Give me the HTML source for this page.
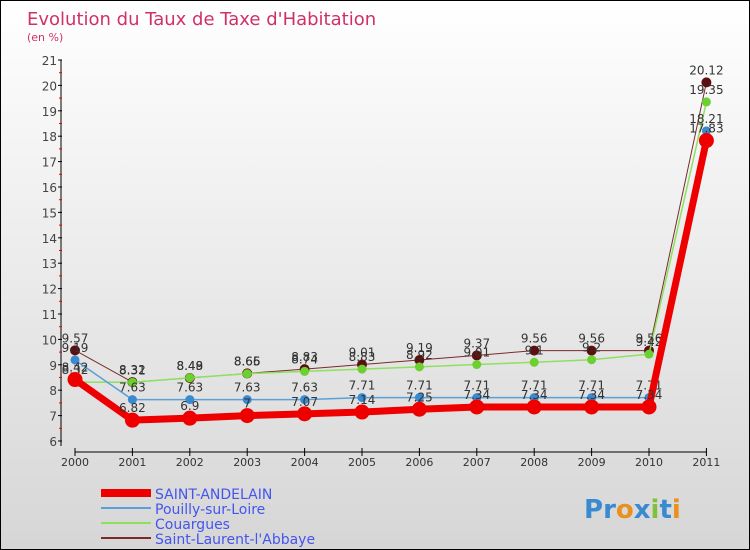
<!DOCTYPE html>
<html><head><meta charset="utf-8"><style>
body{margin:0}
#c{position:relative;width:748px;height:548px;border:1px solid #000;background:linear-gradient(#fff,#d6d6d6);font-family:"DejaVu Sans","Liberation Sans",sans-serif;overflow:hidden}
text{font-family:"DejaVu Sans","Liberation Sans",sans-serif}
</style></head><body>
<div id="c">
<svg id="s" width="748" height="548"></svg>
</div>
<script>
const years=[2000,2001,2002,2003,2004,2005,2006,2007,2008,2009,2010,2011];
const sAnd=[8.42,6.82,6.9,7,7.07,7.14,7.25,7.34,7.34,7.34,7.34,17.83];
const sPou=[9.19,7.63,7.63,7.63,7.63,7.71,7.71,7.71,7.71,7.71,7.71,18.21];
const sCou=[8.32,8.31,8.49,8.65,8.74,8.83,8.92,9.01,9.1,9.2,9.42,19.35];
const sSla=[9.57,8.32,8.48,8.66,8.83,9.01,9.19,9.37,9.56,9.56,9.56,20.12];
const yTicks=[6,7,8,9,10,11,12,13,14,15,16,17,18,19,20,21];
const names=["SAINT-ANDELAIN","Pouilly-sur-Loire","Couargues","Saint-Laurent-l'Abbaye"];
const NS="http://www.w3.org/2000/svg",svg=document.getElementById('s');
const x=i=>74+i*57.4, y=v=>440-(v-6)*25.4;
function el(t,a,txt){const e=document.createElementNS(NS,t);for(const k in a)e.setAttribute(k,a[k]);if(txt!==undefined)e.textContent=txt;svg.appendChild(e);return e;}
let t=el('text',{x:26,y:24,fill:'#d0306a','font-size':18},'Evolution du Taux de Taxe d\'Habitation');

t=el('text',{x:26,y:40,fill:'#d0306a','font-size':11},'(en %)');

let a=el('line',{x1:60,y1:59,x2:60,y2:445,stroke:'#000'});

a=el('line',{x1:74,y1:451,x2:706,y2:451,stroke:'#000'});

yTicks.forEach(v=>{el('line',{x1:57,x2:61,y1:y(v),y2:y(v),stroke:'#000'});
 if(v<21)el('line',{x1:58,x2:61,y1:y(v+0.5),y2:y(v+0.5),stroke:'#e00'});
 const l=el('text',{x:56,y:y(v)+5,'text-anchor':'end','font-size':12,fill:'#444'},v);
 });
years.forEach((yr,i)=>{el('line',{x1:x(i),x2:x(i),y1:447,y2:455,stroke:'#000'});
 const l=el('text',{x:x(i),y:465,'text-anchor':'middle','font-size':11,fill:'#333'},yr);
 });
const series=[[sSla,'#7a2a2a','#5a1010',1,5],[sCou,'#8ee060','#6cd030',1.5,4.5],[sPou,'#5aa0d8','#3a8ad0',1.5,4.5],[sAnd,'#ee0000','#ee0000',7,7.5]];
const snames=['saint-laurent','couargues','pouilly','saint-andelain'];
series.forEach((s,k)=>{const[d,c,fc,w,r]=s;
 const p=el('polyline',{points:d.map((v,i)=>x(i)+','+y(v)).join(' '),fill:'none',stroke:c,'stroke-width':w,'stroke-linejoin':'round'});
 
 d.forEach((v,i)=>{const m=el('circle',{cx:x(i),cy:y(v),r:r,fill:fc});
  
  const l=el('text',{x:x(i),y:y(v)-8,'text-anchor':'middle','font-size':12,fill:'#333'},String(v));
  });});
const lc=['#ee0000','#5aa0d8','#8ee060','#7a2a2a'],lw=[8,2,2,2];
names.forEach((n,i)=>{const yy=492+i*15;
 const ln=el('line',{x1:100,x2:150,y1:yy,y2:yy,stroke:lc[i],'stroke-width':lw[i]});
 
 const l=el('text',{x:154,y:yy+6,'font-size':14,fill:'#4455ee'},n);
 });
const lg=el('text',{x:583,y:517,'font-size':26,'font-weight':'bold'});

[['P','#3a8ad0'],['r','#3a8ad0'],['o','#e89020'],['x','#3a8ad0'],['i','#80c040'],['t','#3a8ad0'],['i','#e89020']].forEach(([ch,c])=>{const ts=document.createElementNS(NS,'tspan');ts.setAttribute('fill',c);ts.textContent=ch;lg.appendChild(ts);});
</script>
</body></html>
